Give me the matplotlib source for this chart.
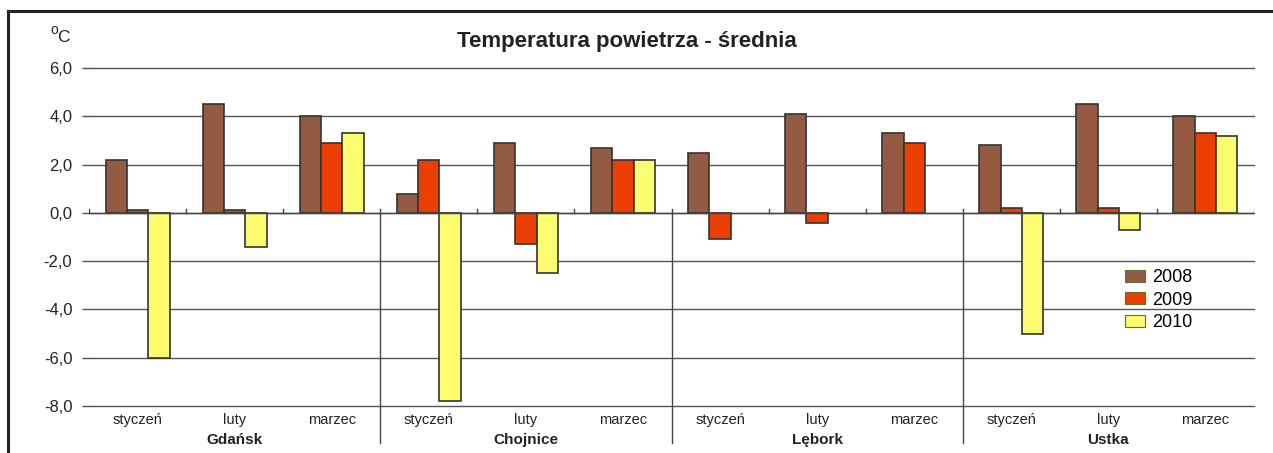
"""Average air temperature (Jan-Mar) for four stations, grouped bars per year."""

import numpy as np
import matplotlib
matplotlib.use("Agg")
import matplotlib.pyplot as plt
from matplotlib.lines import Line2D
from matplotlib.patches import Patch
import matplotlib.transforms as mtransforms

plt.rcParams["font.family"] = ["Liberation Sans", "DejaVu Sans"]

# ── data ─────────────────────────────────────────────────────────────────────
cities = ["Gdańsk", "Chojnice", "Lębork", "Ustka"]
months = ["styczeń", "luty", "marzec"]
years = ["2008", "2009", "2010"]

# values per (city, month), in the order: Gdańsk x3, Chojnice x3, Lębork x3, Ustka x3
t2008 = [2.2, 4.5, 4.0, 0.8, 2.9, 2.7, 2.5, 4.1, 3.3, 2.8, 4.5, 4.0]
t2009 = [0.1, 0.1, 2.9, 2.2, -1.3, 2.2, -1.1, -0.4, 2.9, 0.2, 0.2, 3.3]
t2010 = [-6.0, -1.4, 3.3, -7.8, -2.5, 2.2, np.nan, np.nan, np.nan, -5.0, -0.7, 3.2]

colors = ["#955A42", "#EA3F00", "#FBFC6E"]

# ── figure ───────────────────────────────────────────────────────────────────
fig = plt.figure(figsize=(12.73, 4.53), dpi=100)
ax = fig.add_axes([89 / 1273, 1 - 406 / 453, (1254 - 89) / 1273, (406 - 68) / 453])

n = len(t2008)
x = np.arange(n)
w = 0.22
for i, (vals, c) in enumerate(zip([t2008, t2009, t2010], colors)):
    ax.bar(x + (i - 1) * w, vals, width=w, color=c, edgecolor="#333333",
           linewidth=1.2, zorder=3)

ax.set_xlim(-0.5, n - 0.5)
ax.set_ylim(-8, 6)
ax.set_yticks(np.arange(-8, 6.1, 2))
ax.set_yticklabels([f"{v:.1f}".replace(".", ",") for v in np.arange(-8, 6.1, 2)])
ax.grid(axis="y", color="#555555", linewidth=1.0, zorder=0)
for gl in ax.get_ygridlines():
    gl.set_clip_on(False)
ax.tick_params(axis="y", length=5, width=1.0, color="#555555", pad=7,
               labelsize=12, labelcolor="#222222")

ax.set_xticks(x)
ax.set_xticklabels(months * len(cities))
ax.tick_params(axis="x", length=0, pad=5, labelsize=10.5, labelcolor="#222222")

for s in ax.spines.values():
    s.set_visible(False)

# zero line with small up-ticks at category boundaries
ax.axhline(0, color="#444444", linewidth=1.0, zorder=4)
for b in np.arange(-0.5, n, 1.0):
    ax.plot([b, b], [0, 0.15], color="#444444", linewidth=1.0, zorder=4)

# group separators, from the zero line down past the labels
trans = mtransforms.blended_transform_factory(ax.transData, ax.transAxes)
y0 = (0 - (-8)) / 14
for k in range(1, len(cities)):
    b = k * len(months) - 0.5
    ax.plot([b, b], [y0, -0.11], color="#444444", linewidth=1.0,
            transform=trans, clip_on=False, zorder=4)

# city labels
for k, city in enumerate(cities):
    cx = k * len(months) + 1
    ax.text(cx, -0.10, city, transform=trans, ha="center", va="center",
            fontsize=11, fontweight="bold", color="#222222")

# legend
handles = [Patch(facecolor=c, edgecolor="#6b6b3a", linewidth=0.8) for c in colors]
ax.legend(handles, years, loc="upper left", bbox_to_anchor=(0.889, 0.405),
          frameon=False, fontsize=13, handlelength=1.15, handleheight=0.65,
          handletextpad=0.35, labelspacing=0.3, borderpad=0, borderaxespad=0)

# title and unit
fig.text(627 / 1273, 1 - 42 / 453, "Temperatura powietrza - średnia",
         ha="center", va="center", fontsize=16, fontweight="bold", color="#222222")
fig.text(50 / 1273, 1 - 30 / 453, "o", ha="left", va="center", fontsize=10, color="#222222")
fig.text(57 / 1273, 1 - 37 / 453, "C", ha="left", va="center", fontsize=12.5, color="#222222")

# outer frame (top and left only)
fig.add_artist(Line2D([8 / 1273, 1], [1 - 11 / 453, 1 - 11 / 453],
                      color="#222222", linewidth=2.2, transform=fig.transFigure))
fig.add_artist(Line2D([8 / 1273, 8 / 1273], [0, 1 - 11 / 453],
                      color="#222222", linewidth=2.2, transform=fig.transFigure))

fig.savefig("out.png", dpi=100)
